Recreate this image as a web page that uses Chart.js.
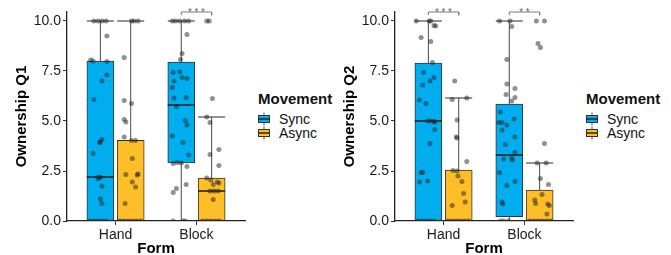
<!DOCTYPE html>
<html><head><meta charset="utf-8">
<script src="https://cdn.jsdelivr.net/npm/chart.js@4.4.1/dist/chart.umd.min.js"></script>
<style>
html,body{margin:0;padding:0;background:#fff;}
#wrap{position:relative;width:671px;height:255px;overflow:hidden;font-family:"Liberation Sans",Arial,sans-serif;}
.panel{position:absolute;top:0;width:343px;height:255px;}
.panel canvas{position:absolute;left:0;top:0;}
.legend{position:absolute;left:258px;top:90px;color:#111;}
.lt{font-weight:bold;font-size:15px;line-height:18px;white-space:nowrap;}
.row{display:flex;align-items:center;height:14px;font-size:14px;line-height:14px;}
.row svg{margin-right:9px;display:block;}
</style></head><body>
<div id="wrap">
 <div class="panel" id="p1" style="left:0"><canvas id="c1" width="252" height="255"></canvas></div>
 <div class="panel" id="p2" style="left:328px"><canvas id="c2" width="252" height="255"></canvas></div>
</div>
<script>
const categories = ['Hand', 'Block'];
const series = ['Sync', 'Async'];
const yTicks = [0, 2.5, 5, 7.5, 10];
const yTitles = ['Ownership Q1', 'Ownership Q2'];
const xTitle = 'Form';
const legendTitle = 'Movement';

// box summaries per category [Hand, Block]
const q1SyncLo = [0, 0],   q1SyncQ1 = [0, 2.9],  q1SyncMed = [2.2, 5.8], q1SyncQ3 = [8.0, 7.95], q1SyncHi = [10, 10];
const q1AsyncLo = [0, 0],  q1AsyncQ1 = [0, 0],   q1AsyncMed = [0, 1.5],  q1AsyncQ3 = [4.03, 2.15], q1AsyncHi = [10, 5.2];
const q2SyncLo = [0, 0],   q2SyncQ1 = [0, 0.22], q2SyncMed = [5.0, 3.3], q2SyncQ3 = [7.9, 5.85], q2SyncHi = [10, 10];
const q2AsyncLo = [0, 0],  q2AsyncQ1 = [0, 0],   q2AsyncMed = [0, 0],    q2AsyncQ3 = [2.55, 1.55], q2AsyncHi = [6.15, 2.9];

// significance labels per category
const q1Sig = ['', '***'];
const q2Sig = ['***', '**'];

// observations: [value, jitter offset]
const q1HandSync = [[10,-0.08],[10,-0.03],[10,0.02],[10,0.07],[9.25,0.08],[8.05,-0.12],[8.0,-0.09],[7.97,0.08],[7.3,0.08],[7.0,0.02],[6.07,-0.08],[4.08,0.02],[3.92,-0.01],[3.95,0.0],[3.37,-0.09],[2.2,-0.02],[2.18,0.0],[2.12,-0.03],[1.75,0.02],[1.1,0.0],[0.88,0.02],[0,-0.13],[0,-0.08],[0,-0.03],[0,0.02],[0,0.07]];
const q1HandAsync = [[10,0.01],[10,0.04],[10,0.09],[8.18,-0.08],[6.02,-0.08],[5.88,0.01],[5.08,-0.08],[4.95,-0.06],[4.2,-0.08],[4.03,0.01],[4.03,0.06],[3.13,0.02],[2.33,-0.06],[2.3,0.08],[2.35,0.09],[1.95,0.02],[1.7,0.06],[0.87,-0.07],[0,-0.13],[0,-0.08],[0,-0.03],[0,0.02],[0,0.07],[0,0.12]];
const q1BlockSync = [[10,-0.11],[10,-0.07],[10,-0.02],[10,0.04],[10,0.09],[9.33,0.07],[8.38,0.01],[8.08,-0.01],[7.42,-0.1],[7.45,-0.02],[7.17,0.01],[7.13,0.07],[7.0,-0.09],[6.68,-0.11],[6.18,0.06],[6.15,-0.09],[5.72,-0.06],[5.02,0.05],[4.8,0.07],[4.25,-0.11],[3.92,0.02],[3.3,0.09],[2.92,-0.05],[2.87,-0.1],[2.9,0.0],[2.72,0.07],[1.83,0.06],[1.62,-0.06],[1.42,-0.1],[0,-0.1],[0,0.02],[0,0.05]];
const q1BlockAsync = [[10,-0.06],[10,-0.03],[6.13,0.01],[5.2,-0.06],[4.93,-0.02],[3.58,0.09],[3.33,-0.02],[2.77,0.09],[2.15,-0.06],[2.05,-0.01],[1.95,0.07],[1.9,0.09],[1.82,0.02],[1.5,-0.02],[1.5,0.08],[1.5,0.03],[1.08,0.02],[0,-0.11],[0,-0.06],[0,-0.01],[0,0.04],[0,0.09]];
const q2HandSync = [[10,-0.15],[10,0.01],[10,0.03],[9.77,0.07],[9.75,0.09],[9.17,-0.09],[8.97,0.03],[7.92,0.05],[7.42,-0.06],[7.18,0.07],[7.0,0.02],[6.8,-0.07],[6.05,-0.11],[5.87,-0.03],[5.0,-0.01],[5.0,0.03],[4.98,0.07],[4.95,0.08],[4.58,0.08],[3.88,0.02],[2.42,-0.09],[2.42,-0.07],[1.95,-0.11],[2.0,-0.01],[0,-0.13],[0,-0.08],[0,-0.03],[0,0.02],[0,0.07]];
const q2HandAsync = [[7.0,-0.05],[6.08,-0.08],[6.15,0.1],[5.05,-0.02],[4.2,-0.03],[4.15,-0.02],[2.97,0.1],[2.52,-0.07],[2.5,-0.02],[2.25,-0.01],[1.97,0.04],[1.38,0.06],[0.95,0.08],[0.77,-0.08],[0,-0.13],[0,-0.08],[0,-0.03],[0,0.02],[0,0.07],[0,0.12]];
const q2BlockSync = [[10,-0.12],[10,0.01],[9.72,0.03],[8.08,-0.03],[6.85,-0.03],[6.63,0.07],[6.33,-0.04],[6.17,0.07],[6.0,0.03],[5.45,-0.11],[5.1,0.06],[4.93,-0.13],[4.93,-0.09],[4.8,-0.03],[4.55,-0.09],[4.2,0.07],[3.82,-0.05],[3.42,0.07],[3.1,-0.07],[3.15,0.03],[3.05,0.04],[2.43,-0.12],[1.98,0.07],[1.77,-0.03],[0.95,-0.09],[0.85,-0.08],[0,-0.11],[0,-0.07],[0,-0.01]];
const q2BlockAsync = [[10,-0.04],[10,0.06],[8.88,-0.02],[8.68,0.01],[3.88,0.06],[2.9,-0.03],[2.9,0.08],[2.13,0.01],[1.82,0.11],[1.33,0.03],[1.05,-0.06],[0.88,-0.05],[0.85,0.1],[0.78,0.12],[0.35,0.09],[0,-0.12],[0,-0.07],[0,-0.02],[0,0.03],[0,0.08],[0,0.13]];

const COLORS = ['#00AEEF', '#FDBE27'];
const DODGE = 0.1875, HALF = 0.167, Y_MAX = 10.45, BRACKET_DROP = 0.16;
const FONT = '"Liberation Sans", Arial, sans-serif';

function buildPanel(canvasId, yTitle, sumSync, sumAsync, ptsSync, ptsAsync, sig) {
  const sums = [sumSync, sumAsync];
  const pts = [ptsSync, ptsAsync];
  const datasets = [];
  const gap = (x) => ({x: x, y: null});
  const whisk = [], caps = [], meds = [];
  sums.forEach((s, si) => {
    categories.forEach((c, ci) => {
      const cx = ci + 1 + (si === 0 ? -DODGE : DODGE);
      whisk.push({x: cx, y: s.lo[ci]}, {x: cx, y: s.hi[ci]}, gap(cx));
      caps.push({x: cx - HALF, y: s.hi[ci]}, {x: cx + HALF, y: s.hi[ci]}, gap(cx + HALF));
      caps.push({x: cx - HALF, y: s.lo[ci]}, {x: cx + HALF, y: s.lo[ci]}, gap(cx + HALF));
      meds.push({x: cx - HALF, y: s.med[ci]}, {x: cx + HALF, y: s.med[ci]}, gap(cx + HALF));
    });
  });
  datasets.push({type: 'line', data: whisk, borderColor: '#4a4a4a', borderWidth: 1, pointRadius: 0, spanGaps: false, order: 5});
  datasets.push({type: 'line', data: caps, borderColor: '#2a2a2a', borderWidth: 1.2, pointRadius: 0, spanGaps: false, order: 4});
  sums.forEach((s, si) => {
    datasets.push({
      type: 'bar', label: series[si], grouped: false, barThickness: 27,
      data: categories.map((c, ci) => ({x: ci + 1 + (si === 0 ? -DODGE : DODGE), y: [s.q1[ci], s.q3[ci]]})),
      backgroundColor: COLORS[si], borderColor: '#333', borderWidth: 1, borderSkipped: false, order: 3
    });
  });
  datasets.push({type: 'line', data: meds, borderColor: '#1a1a1a', borderWidth: 1.6, pointRadius: 0, spanGaps: false, order: 2});
  pts.forEach((groups, si) => {
    const data = [];
    groups.forEach((g, ci) => {
      const cx = ci + 1 + (si === 0 ? -DODGE : DODGE);
      g.forEach(p => data.push({x: cx + p[1], y: p[0]}));
    });
    datasets.push({type: 'scatter', data: data, pointRadius: 2.5, pointBackgroundColor: 'rgba(35,35,35,0.5)', pointBorderWidth: 0, clip: 0, order: 1});
  });
  const br = [];
  sig.forEach((lab, ci) => {
    if (!lab) return;
    const a = ci + 1 - DODGE, b = ci + 1 + DODGE;
    br.push({x: a, y: Y_MAX - BRACKET_DROP}, {x: a, y: Y_MAX}, {x: b, y: Y_MAX}, {x: b, y: Y_MAX - BRACKET_DROP}, {x: b, y: null});
  });
  datasets.push({type: 'line', data: br, borderColor: '#7a7a7a', borderWidth: 1, pointRadius: 0, spanGaps: false, clip: false, order: 0});

  const starPlugin = {
    id: 'stars',
    afterDatasetsDraw(chart) {
      const ctx = chart.ctx, xs = chart.scales.x, ys = chart.scales.y;
      ctx.save();
      ctx.fillStyle = '#666';
      ctx.font = '10px ' + FONT;
      ctx.textAlign = 'center';
      ctx.textBaseline = 'alphabetic';
      sig.forEach((lab, ci) => {
        if (!lab) return;
        const cx = xs.getPixelForValue(ci + 1);
        const y = ys.getPixelForValue(Y_MAX) + 3.5;
        const step = 6.5;
        for (let k = 0; k < lab.length; k++) {
          ctx.fillText(lab[k], cx + (k - (lab.length - 1) / 2) * step, y);
        }
      });
      ctx.restore();
    }
  };

  new Chart(document.getElementById(canvasId), {
    type: 'scatter',
    data: {datasets: datasets},
    plugins: [starPlugin],
    options: {
      responsive: false, animation: false, devicePixelRatio: 1,
      layout: {padding: {left: 0, right: 7, top: 12, bottom: 0}},
      plugins: {legend: {display: false}, tooltip: {enabled: false}},
      scales: {
        x: {
          type: 'linear', min: 0.4, max: 2.6, offset: false,
          afterBuildTicks: s => { s.ticks = categories.map((c, i) => ({value: i + 1})); },
          afterFit: s => { s.height = 34; },
          ticks: {autoSkip: false, maxRotation: 0, padding: 2, color: '#1a1a1a', font: {size: 14, family: FONT},
                  callback: v => categories[Math.round(v) - 1]},
          grid: {offset: false, drawOnChartArea: false, drawTicks: true, tickLength: 4, color: '#333', tickColor: '#333'},
          border: {display: true, color: '#222', width: 1.3},
          title: {display: true, text: xTitle, color: '#000', padding: 0, font: {size: 15, weight: 'bold', family: FONT, lineHeight: 0.85}}
        },
        y: {
          type: 'linear', min: 0, max: Y_MAX,
          afterBuildTicks: s => { s.ticks = yTicks.map(v => ({value: v})); },
          afterFit: s => { s.width = 67; },
          ticks: {padding: 2, color: '#1a1a1a', font: {size: 14, family: FONT}, callback: v => Number(v).toFixed(1)},
          grid: {offset: false, drawOnChartArea: false, drawTicks: true, tickLength: 4, color: '#333', tickColor: '#333'},
          border: {display: true, color: '#222', width: 1.3},
          title: {display: true, text: yTitle, color: '#000', padding: {top: 13, bottom: 0}, font: {size: 15, weight: 'bold', family: FONT}}
        }
      }
    }
  });
}

function keySvg(color) {
  return '<svg width="12" height="14" viewBox="0 0 12 14"><line x1="6" y1="0.5" x2="6" y2="13.5" stroke="#555" stroke-width="1"/>' +
    '<rect x="0.5" y="3.5" width="11" height="7" fill="' + color + '" stroke="#333" stroke-width="1"/>' +
    '<line x1="0.5" y1="7" x2="11.5" y2="7" stroke="#1a1a1a" stroke-width="1.4"/></svg>';
}
function buildLegend(panelId) {
  const d = document.createElement('div');
  d.className = 'legend';
  let h = '<div class="lt">' + legendTitle + '</div><div style="height:4px"></div>';
  series.forEach((s, i) => { h += '<div class="row">' + keySvg(COLORS[i]) + '<span>' + s + '</span></div>'; });
  d.innerHTML = h;
  document.getElementById(panelId).appendChild(d);
}

buildPanel('c1', yTitles[0],
  {lo: q1SyncLo, q1: q1SyncQ1, med: q1SyncMed, q3: q1SyncQ3, hi: q1SyncHi},
  {lo: q1AsyncLo, q1: q1AsyncQ1, med: q1AsyncMed, q3: q1AsyncQ3, hi: q1AsyncHi},
  [q1HandSync, q1BlockSync], [q1HandAsync, q1BlockAsync], q1Sig);
buildPanel('c2', yTitles[1],
  {lo: q2SyncLo, q1: q2SyncQ1, med: q2SyncMed, q3: q2SyncQ3, hi: q2SyncHi},
  {lo: q2AsyncLo, q1: q2AsyncQ1, med: q2AsyncMed, q3: q2AsyncQ3, hi: q2AsyncHi},
  [q2HandSync, q2BlockSync], [q2HandAsync, q2BlockAsync], q2Sig);
buildLegend('p1');
buildLegend('p2');
</script>
</body></html>
